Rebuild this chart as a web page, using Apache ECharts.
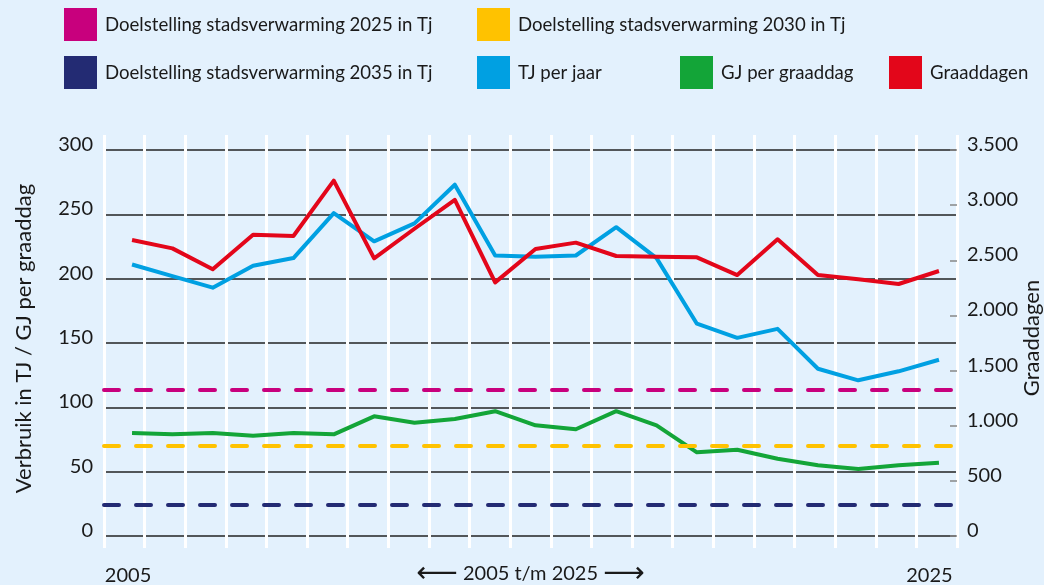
<!DOCTYPE html>
<html>
<head>
<meta charset="utf-8">
<script src="https://cdn.jsdelivr.net/npm/echarts@6/dist/echarts.min.js"></script>
<style>
html, body { margin: 0; padding: 0; background: #e3f1fd; }
#chart { width: 1044px; height: 585px; }
</style>
</head>
<body>
<div id="chart"></div>
<script>
// jaren 2005 t/m 2025
var years = [2005, 2006, 2007, 2008, 2009, 2010, 2011, 2012, 2013, 2014, 2015,
	2016, 2017, 2018, 2019, 2020, 2021, 2022, 2023, 2024, 2025];
var yearLabels = [2005, 2025];

// verbruik in TJ per jaar (linker as)
var tjPerJaar = [211, 202, 193, 210, 216, 251, 229, 243, 273, 218, 217,
	218, 240, 216, 165, 154, 161, 130, 121, 128, 137];
// GJ per graaddag (linker as)
var gjPerGraaddag = [80, 79, 80, 78, 80, 79, 93, 88, 91, 97, 86,
	83, 97, 86, 65, 67, 60, 55, 52, 55, 57];
// graaddagen (rechter as)
var graaddagen = [2684, 2608, 2418, 2732, 2720, 3222, 2518, 2786, 3047, 2300, 2602,
	2660, 2539, 2533, 2527, 2366, 2690, 2366, 2328, 2285, 2403];

// doelstellingen stadsverwarming in Tj
var doelNamen = ['Doelstelling stadsverwarming 2025 in Tj', 'Doelstelling stadsverwarming 2030 in Tj', 'Doelstelling stadsverwarming 2035 in Tj'];
var doelWaarden = [114, 70, 24];

var leftMax = 300, leftStep = 50;
var rightMax = 3500, rightStep = 500;

var kleurDoel = ['#c8007d', '#ffc200', '#232b73'];
var kleurTJ = '#00a0e2', kleurGJ = '#13a538', kleurGraad = '#e3061a';
var font = 'Lato';
var tekst = '#1a1a1a';

function pairs(vals) {
	return years.map(function (y, i) { return [y, vals[i]]; });
}

function legendItem(name, left, top) {
	return {
		data: [name], left: left, top: top, padding: 0, itemGap: 0,
		icon: 'rect', itemWidth: 33, itemHeight: 33, selectedMode: false,
		itemStyle: { borderWidth: 0 },
		textStyle: { fontFamily: font, fontSize: 18.6, color: tekst, padding: [0, 0, 0, 3] }
	};
}

function doelSerie(i) {
	return {
		name: doelNamen[i], type: 'line', xAxisIndex: 1, yAxisIndex: 1,
		data: [], color: kleurDoel[i],
		itemStyle: { color: kleurDoel[i] },
		lineStyle: { color: kleurDoel[i] },
		markLine: {
			symbol: 'none', silent: true, label: { show: false },
			lineStyle: { color: kleurDoel[i], width: 4, type: [15, 17], cap: 'round' },
			data: [{ yAxis: doelWaarden[i] }]
		}
	};
}

function lijnSerie(name, vals, color, yIdx) {
	return {
		name: name, type: 'line', xAxisIndex: 1, yAxisIndex: yIdx,
		data: pairs(vals), color: color, showSymbol: false, symbol: 'none',
		itemStyle: { color: color },
		lineStyle: { color: color, width: 4, join: 'round' }
	};
}

function duizend(v) {
	return v >= 1000 ? Math.floor(v / 1000) + '.' + String(v % 1000).padStart(3, '0') : String(v);
}

var myChart = echarts.init(document.getElementById('chart'));
var option = {
	animation: false,
	backgroundColor: '#e3f1fd',
	legend: [
		legendItem(doelNamen[0], 64, 8),
		legendItem(doelNamen[1], 477, 8),
		legendItem(doelNamen[2], 64, 56),
		legendItem('TJ per jaar', 477, 56),
		legendItem('GJ per graaddag', 680, 56),
		legendItem('Graaddagen', 889, 56)
	],
	grid: [
		// raster voor de witte verticale lijnen (iets hoger dan het plotvlak)
		{ show: true, backgroundColor: 'transparent', borderWidth: 0, left: 104, right: 87, top: 135, bottom: 37, outerBoundsMode: 'none', containLabel: false },
		{ left: 104, right: 87, top: 150, bottom: 49, outerBoundsMode: 'none', containLabel: false }
	],
	xAxis: [
		{
			gridIndex: 0, type: 'value', min: 0, max: years.length, interval: 1,
			axisLine: { show: false }, axisTick: { show: false }, axisLabel: { show: false },
			splitLine: { show: true, lineStyle: { color: '#ffffff', width: 3 } }
		},
		{
			gridIndex: 1, type: 'value', min: 2004.305, max: 2025.447,
			axisLine: { show: false }, axisTick: { show: false }, splitLine: { show: false },
			axisLabel: {
				customValues: yearLabels, margin: 30,
				fontFamily: font, fontSize: 20, color: tekst,
				formatter: function (v) { return v === yearLabels[yearLabels.length - 1] ? '{b|' + v + '}' : '{a|' + v + '}'; },
				rich: {
					a: { fontFamily: font, fontSize: 20, color: tekst, padding: [0, 8, 0, 0] },
					b: { fontFamily: font, fontSize: 20, color: tekst, padding: [0, 19, 0, 0] }
				}
			},
			name: '{p|\u27F5} 2005 t/m 2025 {p|\u27F6}', nameLocation: 'middle', nameGap: 38, nameMoveOverlap: false,
			nameTextStyle: {
				fontFamily: font, fontSize: 20, color: tekst, verticalAlign: 'middle',
				rich: { p: { fontFamily: 'DejaVu Sans', fontSize: 29, color: tekst } }
			}
		}
	],
	yAxis: [
		{ gridIndex: 0, type: 'value', min: 0, max: 1, axisLine: { show: false }, axisTick: { show: false }, axisLabel: { show: false }, splitLine: { show: false } },
		{
			gridIndex: 1, type: 'value', position: 'left', min: 0, max: leftMax, interval: leftStep,
			axisLine: { show: false }, axisTick: { show: false },
			axisLabel: { margin: 11, fontFamily: font, fontSize: 20, color: tekst, verticalAlign: 'bottom', lineHeight: 11 },
			splitLine: { show: true, lineStyle: { color: '#222222', width: 1.5 } },
			name: 'Verbruik in TJ / GJ per graaddag', nameLocation: 'middle', nameRotate: 90, nameGap: 69,
			nameMoveOverlap: false,
			nameTextStyle: { fontFamily: font, fontSize: 22, color: tekst, padding: [0, 0, 0, 9] }
		},
		{
			gridIndex: 1, type: 'value', position: 'right', min: 0, max: rightMax, interval: rightStep,
			axisLine: { show: false },
			axisTick: { show: true, inside: true, length: 7, lineStyle: { color: '#888888', width: 1.5 } },
			axisLabel: {
				margin: 10, fontFamily: font, fontSize: 20, color: tekst, verticalAlign: 'bottom', lineHeight: 11,
				formatter: duizend
			},
			splitLine: { show: false },
			name: 'Graaddagen', nameLocation: 'middle', nameRotate: 90, nameGap: 64,
			nameMoveOverlap: false,
			nameTextStyle: { fontFamily: font, fontSize: 22, color: tekst, padding: [0, 0, 0, 10] }
		}
	],
	series: [
		// lege reeks zodat het raster met de witte lijnen getekend wordt
		{ type: 'line', xAxisIndex: 0, yAxisIndex: 0, data: [], silent: true },
		doelSerie(0),
		doelSerie(1),
		doelSerie(2),
		lijnSerie('GJ per graaddag', gjPerGraaddag, kleurGJ, 1),
		lijnSerie('TJ per jaar', tjPerJaar, kleurTJ, 1),
		lijnSerie('Graaddagen', graaddagen, kleurGraad, 2)
	]
};
myChart.setOption(option);
</script>
</body>
</html>
